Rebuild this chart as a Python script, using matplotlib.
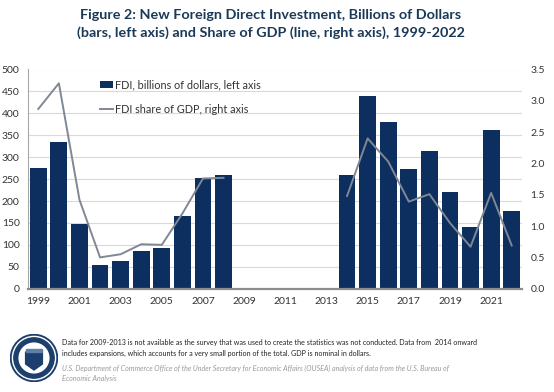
import numpy as np
import matplotlib
matplotlib.use("Agg")
import matplotlib.pyplot as plt
from matplotlib.patches import Circle, Rectangle, Polygon

years = list(range(1999, 2023))
fdi_billions = [275, 335, 148, 54, 63, 85, 92, 166, 252, 260,
                np.nan, np.nan, np.nan, np.nan, np.nan,
                260, 440, 380, 272, 313, 220, 141, 363, 177]
fdi_share_gdp = [2.87, 3.28, 1.42, 0.50, 0.55, 0.71, 0.70, 1.20, 1.76, 1.77,
                 np.nan, np.nan, np.nan, np.nan, np.nan,
                 1.48, 2.40, 2.03, 1.39, 1.51, 1.05, 0.67, 1.53, 0.69]
xtick_labels = [str(y) for y in range(1999, 2023, 2)]
left_ticks = list(range(0, 501, 50))
right_ticks = [0.0, 0.5, 1.0, 1.5, 2.0, 2.5, 3.0, 3.5]

title = ("Figure 2: New Foreign Direct Investment, Billions of Dollars\n"
         "(bars, left axis) and Share of GDP (line, right axis), 1999-2022")
note = ("Data for 2009-2013 is not available as the survey that was used to create the statistics was not conducted. Data from  2014 onward\n"
        "includes expansions, which accounts for a very small portion of the total. GDP is nominal in dollars.")
source = ("U.S. Department of Commerce Office of the Under Secretary for Economic Affairs (OUSEA) analysis of data from the U.S. Bureau of\n"
          "Economic Analysis")

plt.rcParams['font.family'] = ['Lato', 'DejaVu Sans']

W, H = 554, 392
fig = plt.figure(figsize=(W / 100, H / 100), dpi=100)
fig.patch.set_facecolor('white')

ax = fig.add_axes([28 / W, 1 - 288.7 / H, (522 - 28) / W, (288.7 - 69.5) / H])
x = np.arange(len(years))
bar_color = '#0c2f5f'
ax.bar(x, fdi_billions, width=0.82, color=bar_color, zorder=2,
       label='FDI, billions of dollars, left axis')
ax.set_xlim(-0.5, len(years) - 0.5)
ax.set_ylim(0, 500)
ax.set_yticks(left_ticks)
ax.yaxis.grid(True, color='#d9d9d9', linewidth=0.8, zorder=0)
ax.set_axisbelow(True)
ax.set_xticks(x[::2])
ax.set_xticklabels(xtick_labels)
ax.tick_params(axis='both', length=0, labelsize=7.5, colors='#333333')
ax.tick_params(axis='x', pad=6)
ax.tick_params(axis='y', pad=6)
for s in ['top', 'right']:
    ax.spines[s].set_visible(False)
ax.spines['left'].set_color('#a6a6a6')
ax.spines['left'].set_linewidth(0.8)
ax.spines['bottom'].set_color('#8c8c8c')
ax.spines['bottom'].set_linewidth(1.6)

ax2 = ax.twinx()
ax2.plot(x, fdi_share_gdp, color='#7f8893', linewidth=1.4, zorder=3,
         label='FDI share of GDP, right axis')
ax2.set_ylim(0, 3.5)
ax2.set_yticks(right_ticks)
ax2.set_yticklabels([f"{v:.1f}" for v in right_ticks])
ax2.tick_params(axis='y', length=0, labelsize=7.5, colors='#333333', pad=6)
for s in ['top', 'right', 'left', 'bottom']:
    ax2.spines[s].set_visible(False)

h1, l1 = ax.get_legend_handles_labels()
h2, l2 = ax2.get_legend_handles_labels()
leg = ax2.legend(h1 + h2, l1 + l2, loc='upper left', bbox_to_anchor=(0.137, 0.975),
                 frameon=False, fontsize=7.8, handlelength=1.2, handleheight=0.55,
                 handletextpad=0.15, labelspacing=1.25, borderaxespad=0)
for t in leg.get_texts():
    t.set_color('#333333')

fig.text(271 / W, 1 - 24 / H, title, ha='center', va='center', fontsize=10.4,
         fontweight='bold', color='#1b3a58', linespacing=1.45)

fig.text(62 / W, 1 - 348 / H, note, ha='left', va='center', fontsize=5.1,
         color='#222222', linespacing=1.5)
fig.text(62 / W, 1 - 373 / H, source, ha='left', va='center', fontsize=5.1,
         color='#9a9a9a', style='italic', linespacing=1.5)

# Seal logo
lax = fig.add_axes([10 / W, 1 - 382 / H, 48 / W, 48 / H])
lax.set_xlim(-1, 1)
lax.set_ylim(-1, 1)
lax.set_aspect('equal')
lax.axis('off')
lax.add_patch(Circle((0, 0), 0.98, color='#1c3f6e'))
lax.add_patch(Circle((0, 0), 0.9, color='white'))
lax.add_patch(Circle((0, 0), 0.84, color='#1c3f6e'))
lax.add_patch(Circle((0, 0), 0.62, color='white'))
lax.add_patch(Polygon([[-0.35, 0.25], [0.35, 0.25], [0.35, -0.25], [0, -0.5], [-0.35, -0.25]],
                      closed=True, color='#1c3f6e'))
lax.add_patch(Rectangle((-0.35, 0.25), 0.7, 0.12, color='#5f7fa8'))

fig.savefig('out.png', dpi=100)
